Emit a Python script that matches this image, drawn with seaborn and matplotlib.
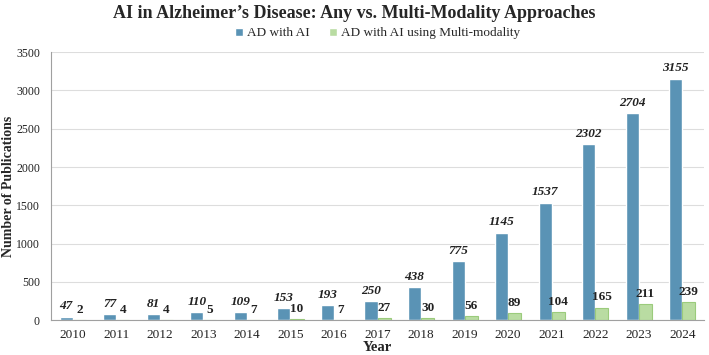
import pandas as pd
import matplotlib.pyplot as plt
import seaborn as sns

years = [str(y) for y in range(2010, 2025)]
ad_ai = [47, 77, 81, 110, 109, 153, 193, 250, 438, 775, 1145, 1537, 2302, 2704, 3155]
ad_multi = [2, 4, 4, 5, 7, 10, 7, 27, 30, 56, 89, 104, 165, 211, 239]
series_names = ['AD with AI', 'AD with AI using Multi-modality']

sns.set_style('white')
plt.rcParams['font.family'] = ['Liberation Serif', 'DejaVu Serif']

df = pd.DataFrame({
    'Year': years * 2,
    'Count': ad_ai + ad_multi,
    'Series': [series_names[0]] * len(years) + [series_names[1]] * len(years),
})

fig = plt.figure(figsize=(7.09, 3.55), dpi=100)
ax = fig.add_axes([0.072, 0.098, 0.921, 0.755])

palette = {series_names[0]: '#5a93b5', series_names[1]: '#b9dca2'}
sns.barplot(data=df, x='Year', y='Count', hue='Series', palette=palette,
            width=0.6, gap=0, ax=ax, legend=True, saturation=1)

# edge colours
for bar in ax.containers[1]:
    bar.set_edgecolor('#9bcb7c')
    bar.set_linewidth(0.8)

ax.bar_label(ax.containers[0], labels=[str(v) for v in ad_ai], padding=3,
             fontsize=9.5, fontweight='bold', fontstyle='italic', color='#222222')
ax.bar_label(ax.containers[1], labels=[str(v) for v in ad_multi], padding=3,
             fontsize=9.5, fontweight='bold', color='#222222')

ax.set_ylim(0, 3500)
ax.set_yticks(range(0, 3501, 500))
ax.set_xlim(-0.5, len(years) - 0.5)
ax.yaxis.grid(True, color='#dddddd', linewidth=0.8)
ax.set_axisbelow(True)
for s in ['top', 'right']:
    ax.spines[s].set_visible(False)
ax.spines['left'].set_color('#a0a0a0')
ax.spines['bottom'].set_color('#a0a0a0')
ax.tick_params(axis='both', length=0, labelsize=9.5, colors='#222222')
ax.tick_params(axis='y', pad=8, labelsize=8.5)
ax.tick_params(axis='x', pad=6)

ax.set_xlabel('Year', fontsize=10.5, fontweight='bold', labelpad=0)
ax.set_ylabel('Number of Publications', fontsize=10, fontweight='bold')
ax.yaxis.set_label_coords(-0.055, 0.5)

handles, labels = ax.get_legend_handles_labels()
ax.legend(handles, labels, loc='center', bbox_to_anchor=(0.5, 1.07), ncol=2,
          frameon=False, fontsize=9.5, handlelength=0.6, handleheight=0.6,
          handletextpad=0.3, columnspacing=1.5)

fig.suptitle("AI in Alzheimer\u2019s Disease: Any vs. Multi-Modality Approaches",
             fontsize=13, fontweight='bold', y=0.985)

fig.savefig('out.png', dpi=100)
